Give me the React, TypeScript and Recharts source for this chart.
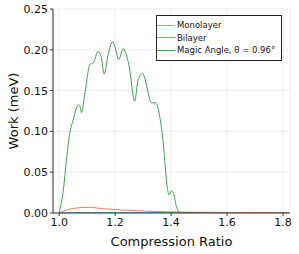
import { CartesianGrid, Line, LineChart, XAxis, YAxis } from "recharts";

// compression ratio vs. work (meV)
const monoX = [1.0, 1.2, 1.4, 1.6, 1.82];
const monoY = [0, 0, 0, 0, 0];

const biX = [1.0, 1.026, 1.056, 1.104, 1.163, 1.223, 1.294, 1.377, 1.46, 1.6, 1.82];
const biY = [0, 0.0037, 0.0058, 0.007, 0.005, 0.0037, 0.0025, 0.0016, 0.001, 0.0007, 0.0005];

const magicX = [
  1.0, 1.015, 1.026, 1.038, 1.05, 1.062, 1.068, 1.074, 1.08, 1.092, 1.11, 1.122, 1.139,
  1.151, 1.161, 1.175, 1.191, 1.199, 1.213, 1.229, 1.238, 1.25, 1.27, 1.282, 1.298,
  1.306, 1.318, 1.33, 1.345, 1.357, 1.372, 1.386, 1.393, 1.401, 1.409, 1.419, 1.428,
  1.44, 1.5,
];
const magicY = [
  0, 0.028, 0.065, 0.098, 0.114, 0.129, 0.133, 0.131, 0.123, 0.147, 0.182, 0.184, 0.198,
  0.19, 0.17, 0.194, 0.21, 0.204, 0.188, 0.2015, 0.196, 0.18, 0.137, 0.163, 0.171,
  0.1655, 0.147, 0.135, 0.135, 0.1225, 0.086, 0.032, 0.022, 0.027, 0.024, 0.008, 0.0016,
  0, 0,
];

const xTicks = [1.0, 1.2, 1.4, 1.6, 1.8];
const yTicks = [0, 0.05, 0.1, 0.15, 0.2, 0.25];

const seriesNames = ["Monolayer", "Bilayer", "Magic Angle, θ = 0.96°"];
const colors = ["#5BB8F2", "#EC7E5A", "#3EA44E"];

const toPoints = (xs: number[], ys: number[]) => xs.map((x, i) => ({ x, y: ys[i] }));

const font = "DejaVu Sans, sans-serif";

// legend drawn as an overlay so it doesn't eat into the plot area
function LegendBox() {
  return (
    <div
      style={{
        position: "absolute",
        left: 156,
        top: 15,
        width: 126,
        boxSizing: "border-box",
        border: "1px solid #222",
        background: "#fff",
        padding: "3px 0 3px 0",
        fontFamily: font,
        fontSize: 8.5,
        color: "#111",
        lineHeight: "12.5px",
      }}
    >
      {seriesNames.map((name, i) => (
        <div key={name} style={{ display: "flex", alignItems: "center", whiteSpace: "nowrap" }}>
          <span
            style={{
              display: "inline-block",
              width: 18,
              height: 0,
              borderTop: `1px solid ${colors[i]}`,
              marginRight: 2,
            }}
          />
          {name}
        </div>
      ))}
    </div>
  );
}

export default function App() {
  return (
    <div style={{ position: "absolute", left: 0, top: 0, width: 299, height: 254 }}>
      <LineChart width={299} height={254} margin={{ top: 9, right: 9, left: 0, bottom: 0 }}>
        <CartesianGrid stroke="#ececec" strokeWidth={1} />
        <XAxis
          type="number"
          dataKey="x"
          domain={[0.978, 1.825]}
          ticks={xTicks}
          tickFormatter={(v: number) => v.toFixed(1)}
          allowDataOverflow
          height={41}
          stroke="#333"
          tickSize={3}
          tickLine={{ stroke: "#333" }}
          tick={{ fill: "#111", fontSize: 11, fontFamily: font }}
          label={{
            value: "Compression Ratio",
            position: "insideBottom",
            offset: 8,
            fill: "#111",
            fontSize: 13,
            fontFamily: font,
          }}
        />
        <YAxis
          type="number"
          domain={[0, 0.25]}
          ticks={yTicks}
          tickFormatter={(v: number) => v.toFixed(2)}
          allowDataOverflow
          width={53}
          stroke="#333"
          tickSize={3}
          tickLine={{ stroke: "#333" }}
          tick={{ fill: "#111", fontSize: 11, fontFamily: font }}
          label={{
            value: "Work (meV)",
            angle: -90,
            position: "insideLeft",
            offset: 13,
            style: { textAnchor: "middle" },
            fill: "#111",
            fontSize: 13,
            fontFamily: font,
          }}
        />
        <Line
          data={toPoints(monoX, monoY)}
          dataKey="y"
          name={seriesNames[0]}
          stroke={colors[0]}
          strokeWidth={2}
          dot={false}
          type="linear"
          isAnimationActive={false}
        />
        <Line
          data={toPoints(biX, biY)}
          dataKey="y"
          name={seriesNames[1]}
          stroke={colors[1]}
          strokeWidth={1}
          dot={false}
          type="monotone"
          isAnimationActive={false}
        />
        <Line
          data={toPoints(magicX, magicY)}
          dataKey="y"
          name={seriesNames[2]}
          stroke={colors[2]}
          strokeWidth={1}
          dot={false}
          type="monotone"
          isAnimationActive={false}
        />
      </LineChart>
      <LegendBox />
    </div>
  );
}
